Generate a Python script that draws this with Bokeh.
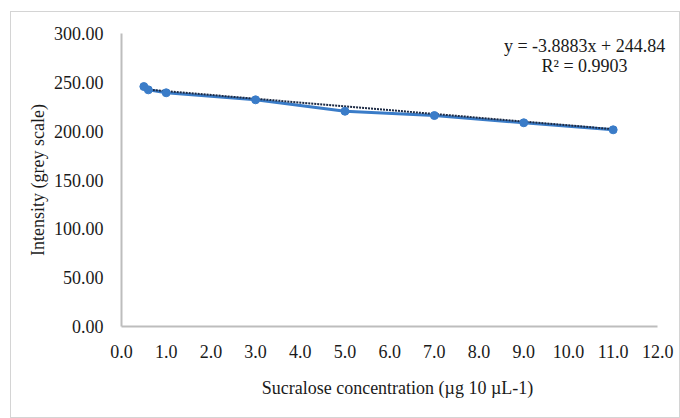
from bokeh.plotting import figure
from bokeh.models import Range1d, Label, NumeralTickFormatter, FixedTicker
from bokeh.embed import file_html
from bokeh.resources import INLINE

# Data
concentration = [0.5, 0.6, 1.0, 3.0, 5.0, 7.0, 9.0, 11.0]
intensity = [245.7, 242.3, 239.3, 232.1, 220.4, 216.0, 208.6, 201.4]
fit_slope = -3.8883
fit_intercept = 244.84
r_squared = 0.9903
x_ticks = [0, 1, 2, 3, 4, 5, 6, 7, 8, 9, 10, 11, 12]
y_ticks = [0, 50, 100, 150, 200, 250, 300]

FONT = "Liberation Serif"
BLUE = "#3a7cc8"
DARK = "#1d2b45"
TXT = "#1a1a1a"

p = figure(width=670, height=407, output_backend="svg", toolbar_location=None,
           x_range=Range1d(0, 12.35), y_range=Range1d(0, 300),
           min_border_left=110, min_border_right=8, min_border_top=21, min_border_bottom=93)
p.styles = {"border": "1px solid #d4d4d4", "box-sizing": "border-box",
            "margin-left": "10px", "margin-top": "11px"}
p.outline_line_color = None
p.grid.visible = False
p.background_fill_color = "white"
p.border_fill_color = "white"

for ax in (p.xaxis[0], p.yaxis[0]):
    ax.axis_line_color = "#bdbdbd"
    ax.axis_line_width = 2
    ax.major_tick_line_color = None
    ax.minor_tick_line_color = None
    ax.major_label_text_font = FONT
    ax.major_label_text_font_size = "18px"
    ax.major_label_text_color = TXT
    ax.axis_label_text_font = FONT
    ax.axis_label_text_font_size = "18px"
    ax.axis_label_text_font_style = "normal"
    ax.axis_label_text_color = TXT

p.xaxis.bounds = (x_ticks[0], x_ticks[-1])
p.xaxis.ticker = FixedTicker(ticks=x_ticks)
p.yaxis.ticker = FixedTicker(ticks=y_ticks)
p.xaxis.formatter = NumeralTickFormatter(format="0.0")
p.yaxis.formatter = NumeralTickFormatter(format="0.00")
p.xaxis.axis_label = "Sucralose concentration (µg 10 µL-1)"
p.yaxis.axis_label = "Intensity (grey scale)"
p.xaxis.major_label_standoff = 12
p.yaxis.major_label_standoff = 12
p.xaxis.axis_label_standoff = 17
p.yaxis.axis_label_standoff = 3

# series line and markers
p.line(concentration, intensity, line_color=BLUE, line_width=3)
# linear trendline
tx = [min(concentration), max(concentration)]
ty = [fit_slope * v + fit_intercept for v in tx]
p.line(tx, ty, line_color=DARK, line_width=2, line_dash="2 1")
p.scatter(concentration, intensity, size=8, fill_color=BLUE, line_color=BLUE)

eq = Label(x=10.36, y=287.5, text=f"y = {fit_slope}x + {fit_intercept}",
           text_font=FONT, text_font_size="18px", text_align="center",
           text_baseline="middle", text_color=TXT)
r2 = Label(x=10.36, y=267, text=f"R² = {r_squared}",
           text_font=FONT, text_font_size="18px", text_align="center",
           text_baseline="middle", text_color=TXT)
p.add_layout(eq)
p.add_layout(r2)

open("out.html", "w").write(file_html(p, INLINE))
